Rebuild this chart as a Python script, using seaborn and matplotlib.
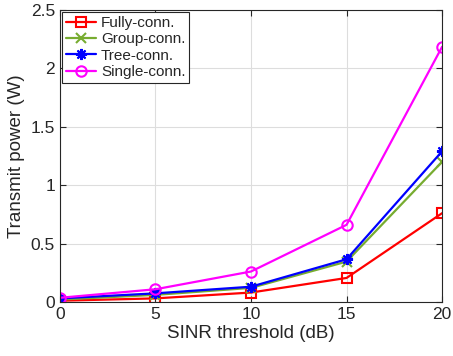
import matplotlib
matplotlib.use("Agg")
import matplotlib.pyplot as plt
import seaborn as sns
import pandas as pd

snr = [0, 5, 10, 15, 20]
fully = [0.01, 0.03, 0.08, 0.205, 0.76]
group = [0.02, 0.06, 0.12, 0.345, 1.20]
tree = [0.03, 0.073, 0.13, 0.365, 1.29]
single = [0.035, 0.108, 0.26, 0.66, 2.185]
names = ["Fully-conn.", "Group-conn.", "Tree-conn.", "Single-conn."]
colors = ["#FF0000", "#77AC30", "#0000FF", "#FF00FF"]
markers = ["s", "x", (8, 2, 0), "o"]
msizes = [6.5, 7, 8, 7.5]

sns.set_theme(style="ticks")
plt.rcParams['font.family'] = ['Liberation Sans', 'DejaVu Sans']

fig = plt.figure(figsize=(4.53, 3.56), dpi=100)
ax = fig.add_axes([0.132, 0.152, 0.844, 0.820])

for name, vals, c, m, ms in zip(names, [fully, group, tree, single], colors, markers, msizes):
    df = pd.DataFrame({"x": snr, "y": vals})
    sns.lineplot(data=df, x="x", y="y", ax=ax, color=c, marker=m, markersize=ms,
                 markerfacecolor="none", markeredgecolor=c,
                 markeredgewidth=1.5, linewidth=1.6, label=name)

ax.set_xlim(0, 20)
ax.set_ylim(0, 2.5)
ax.set_xticks([0, 5, 10, 15, 20])
ax.set_yticks([0, 0.5, 1, 1.5, 2, 2.5])
ax.set_yticklabels(["0", "0.5", "1", "1.5", "2", "2.5"])
ax.grid(True, color="#DDDDDD", linewidth=0.8)
ax.set_axisbelow(True)
for s in ax.spines.values():
    s.set_visible(True)
    s.set_color("#262626")
    s.set_linewidth(0.8)
ax.tick_params(direction="in", length=4, width=0.8, colors="#262626", labelsize=12.5,
               top=True, right=True, labelcolor="#262626")
ax.set_xlabel("SINR threshold (dB)", fontsize=13.5, color="#262626", labelpad=2)
ax.set_ylabel("Transmit power (W)", fontsize=13.5, color="#262626", labelpad=4)
leg = ax.legend(loc="upper left", fontsize=11, frameon=True, fancybox=False,
                borderpad=0.25, labelspacing=0.15, handlelength=2.0, handletextpad=0.3,
                borderaxespad=0.15)
leg.get_frame().set_edgecolor("#262626")
leg.get_frame().set_linewidth(0.8)
leg.get_frame().set_alpha(1)
fig.savefig("out.png", dpi=100)
